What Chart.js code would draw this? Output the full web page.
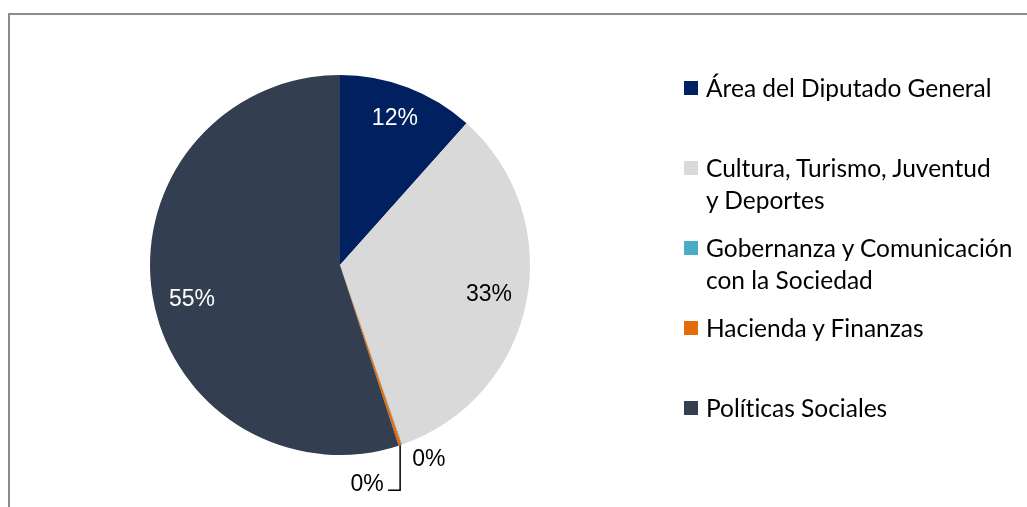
<!DOCTYPE html>
<html>
<head>
<meta charset="utf-8">
<script src="https://cdn.jsdelivr.net/npm/chart.js@4"></script>
<style>
  html, body { margin: 0; padding: 0; background: #fff; }
  #wrap { position: relative; width: 1027px; height: 507px; overflow: hidden; }
  #frame { position: absolute; left: 8px; top: 13px; width: 1100px; height: 600px; border: 2px solid #8c8c8c; box-sizing: border-box; }
  #pie { position: absolute; left: 0; top: 0; }
  .item { position: absolute; left: 684px; width: 340px; font-family: Lato, sans-serif; font-size: 24.5px; line-height: 32px; color: #000; white-space: nowrap; font-variant-ligatures: none; font-feature-settings: "liga" 0; }
  .item .box { position: absolute; left: 0; top: 9px; width: 14px; height: 14px; }
  .item .txt { margin-left: 22px; }
</style>
</head>
<body>
<div id="wrap">
  <div id="frame"></div>
  <canvas id="pie" width="1027" height="507"></canvas>
  <div id="legend"></div>
</div>
<script>
document.addEventListener("DOMContentLoaded", function () {
    const categories = [
        ['Área del Diputado General'],
        ['Cultura, Turismo, Juventud', 'y Deportes'],
        ['Gobernanza y Comunicación', 'con la Sociedad'],
        ['Hacienda y Finanzas'],
        ['Políticas Sociales']
    ];
    const shares = [11.6, 33.1, 0.05, 0.25, 55.0];
    const colors = ['#002060', '#d9d9d9', '#4bacc6', '#e46c0a', '#333f50'];
    const labelColors = ['#fff', '#000', '#000', '#000', '#fff'];

    // percent labels drawn on the slices, tiny slices get outside labels
    const pctLabels = {
        id: 'pctLabels',
        afterDatasetsDraw(chart) {
            const ctx = chart.ctx;
            const meta = chart.getDatasetMeta(0);
            const total = shares.reduce((a, b) => a + b, 0);
            ctx.save();
            ctx.font = '23px "Liberation Sans", Arial, sans-serif';
            ctx.textAlign = 'center';
            ctx.textBaseline = 'middle';
            meta.data.forEach((arc, i) => {
                const p = arc.getProps(['x', 'y', 'startAngle', 'endAngle', 'outerRadius'], true);
                const mid = (p.startAngle + p.endAngle) / 2;
                const txt = Math.round(shares[i] / total * 100) + '%';
                const ex = p.x + Math.cos(mid) * p.outerRadius;
                const ey = p.y + Math.sin(mid) * p.outerRadius;
                if (shares[i] >= 1) {
                    ctx.fillStyle = labelColors[i];
                    const r = p.outerRadius * (i === 0 ? 0.81 : 0.8);
                    const a = i === 4 ? mid - 0.07 : mid;
                    ctx.fillText(txt, p.x + Math.cos(a) * r, p.y + Math.sin(a) * r - (i === 0 ? 3 : 0));
                } else if (i === 2) {
                    ctx.fillStyle = '#000';
                    ctx.fillText(txt, ex + 27, ey + 15);
                } else {
                    ctx.strokeStyle = '#000';
                    ctx.lineWidth = 1.5;
                    ctx.beginPath();
                    ctx.moveTo(ex, ey);
                    ctx.lineTo(ex, ey + 45);
                    ctx.lineTo(ex - 12, ey + 45);
                    ctx.stroke();
                    ctx.fillStyle = '#000';
                    ctx.fillText(txt, ex - 33, ey + 39);
                }
            });
            ctx.restore();
        }
    };

    new Chart(document.getElementById('pie').getContext('2d'), {
        type: 'pie',
        data: {
            labels: categories,
            datasets: [{
                data: shares,
                backgroundColor: colors,
                borderWidth: 0
            }]
        },
        options: {
            responsive: false,
            animation: false,
            layout: { padding: { left: 150, right: 497, top: 75, bottom: 52 } },
            plugins: {
                legend: { display: false },
                tooltip: { enabled: false }
            }
        },
        plugins: [pctLabels]
    });

    // legend on the right
    const legend = document.getElementById('legend');
    categories.forEach((lines, i) => {
        const item = document.createElement('div');
        item.className = 'item';
        item.style.top = (72 + i * 80) + 'px';
        item.innerHTML = '<span class="box" style="background:' + colors[i] + '"></span><div class="txt">' + lines.join('<br>') + '</div>';
        legend.appendChild(item);
    });
});
</script>
</body>
</html>
